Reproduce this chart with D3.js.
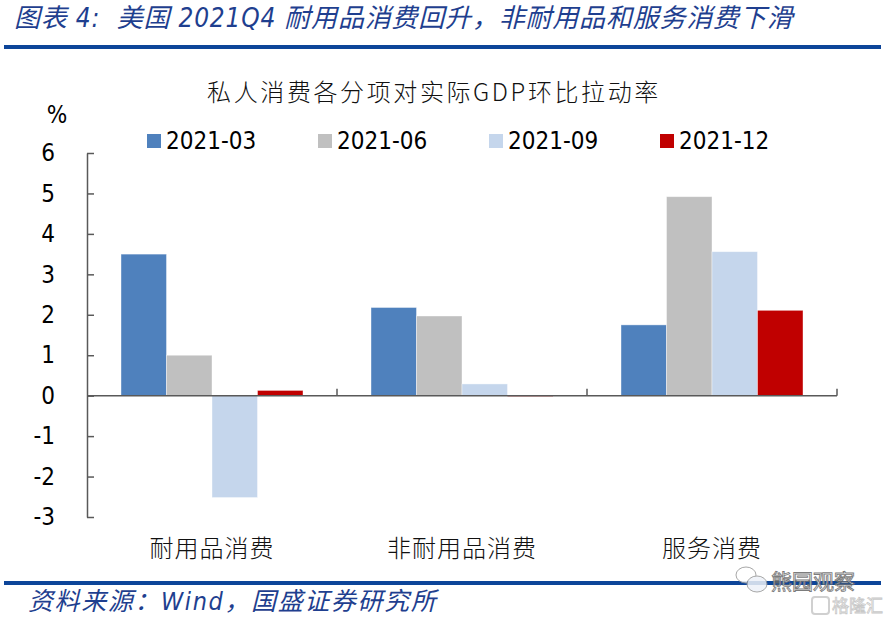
<!DOCTYPE html>
<html>
<head>
<meta charset="utf-8">
<script src="https://cdn.jsdelivr.net/npm/d3@7"></script>
<style>
  html, body { margin: 0; padding: 0; background: #fff; }
  svg { display: block; }
</style>
</head>
<body>
<svg id="chart" width="885" height="620"></svg>
<script>
// ---- data ----
const categories = ["耐用品消费", "非耐用品消费", "服务消费"];
const seriesNames = ["2021-03", "2021-06", "2021-09", "2021-12"];
const s202103 = [3.50, 2.18, 1.75];
const s202106 = [1.00, 1.97, 4.92];
const s202109 = [-2.52, 0.29, 3.56];
const s202112 = [0.13, -0.02, 2.11];
const yTicks = [-3, -2, -1, 0, 1, 2, 3, 4, 5, 6];
const seriesColors = ["#4f81bd", "#c0c0c0", "#c5d6ec", "#c00000"];
const headerText = "图表 4:  美国 2021Q4 耐用品消费回升，非耐用品和服务消费下滑";
const chartTitle = "私人消费各分项对实际GDP环比拉动率";
const sourceText = "资料来源：Wind，国盛证券研究所";

const seriesValues = [s202103, s202106, s202109, s202112];

const svg = d3.select("#chart");
const CJK = "'Noto Sans CJK SC', 'Noto Sans', sans-serif";
const NUM = "'DejaVu Sans Condensed', 'Liberation Sans', sans-serif";
const navy = "#0d4599";

// header
svg.append("text")
  .attr("x", 14).attr("y", 27)
  .attr("font-family", NUM + ", " + CJK)
  .attr("font-style", "italic")
  .attr("font-size", 26)
  .attr("letter-spacing", 0.8)
  .attr("fill", "#1f3f8f")
  .style("white-space", "pre")
  .text(headerText);
svg.append("rect").attr("x", 4).attr("y", 45).attr("width", 877).attr("height", 4).attr("fill", navy);

// footer
svg.append("rect").attr("x", 4).attr("y", 581).attr("width", 877).attr("height", 4).attr("fill", navy);
svg.append("text")
  .attr("x", 28).attr("y", 610)
  .attr("font-family", NUM + ", " + CJK)
  .attr("font-style", "italic")
  .attr("font-size", 25)
  .attr("letter-spacing", 1.6)
  .attr("fill", "#1f3f8f")
  .text(sourceText);

// chart title
svg.append("text")
  .attr("x", 434).attr("y", 101)
  .attr("text-anchor", "middle")
  .attr("font-family", "'Noto Sans CJK SC', sans-serif")
  .attr("font-weight", 300)
  .attr("font-size", 24)
  .attr("letter-spacing", 2.6)
  .attr("fill", "#111")
  .text(chartTitle);

// scales
const x0 = d3.scaleBand().domain(categories).range([87, 837]).padding(0);
const x1 = d3.scaleBand().domain(seriesNames).range([34, x0.bandwidth() - 34]).padding(0);
const y = d3.scaleLinear().domain([-3, 6]).range([517, 153]);
const color = d3.scaleOrdinal().domain(seriesNames).range(seriesColors);

// bars
const g = svg.append("g");
categories.forEach((c, ci) => {
  seriesNames.forEach((s, si) => {
    const v = seriesValues[si][ci];
    g.append("rect")
      .attr("x", x0(c) + x1(s))
      .attr("width", x1.bandwidth())
      .attr("y", y(Math.max(0, v)))
      .attr("height", Math.abs(y(v) - y(0)))
      .attr("fill", color(s))
      .attr("stroke", "#ffffff")
      .attr("stroke-opacity", 0.5)
      .attr("stroke-width", 0.8);
  });
});

// y axis
const yAxis = d3.axisLeft(y).tickValues(yTicks).tickFormat(d3.format("d"))
  .tickSizeInner(-7).tickSizeOuter(0).tickPadding(32);
const ya = svg.append("g").attr("transform", "translate(87,0)").call(yAxis);
ya.select(".domain").attr("stroke", "#595959").attr("stroke-width", 1.5);
ya.selectAll(".tick line").attr("stroke", "#595959").attr("stroke-width", 1.5);
ya.selectAll(".tick text")
  .attr("font-family", NUM).attr("font-size", 24).attr("fill", "#000")
  .text(d => d < 0 ? "-" + Math.abs(d) : d);

// % label
svg.append("text").attr("x", 57).attr("y", 123).attr("text-anchor", "middle")
  .attr("font-family", NUM).attr("font-size", 24).attr("fill", "#000").text("%");

// x axis (zero line) with category separator ticks
const y0 = y(0);
svg.append("line").attr("x1", 87).attr("x2", 837).attr("y1", y0).attr("y2", y0)
  .attr("stroke", "#595959").attr("stroke-width", 1.5);
categories.forEach(c => {
  const xb = x0(c) + x0.bandwidth();
  svg.append("line").attr("x1", xb).attr("x2", xb).attr("y1", y0).attr("y2", y0 - 7)
    .attr("stroke", "#595959").attr("stroke-width", 1.5);
  svg.append("text")
    .attr("x", x0(c) + x0.bandwidth() / 2).attr("y", 557)
    .attr("text-anchor", "middle")
    .attr("font-family", "'Noto Sans CJK SC', sans-serif")
    .attr("font-weight", 300)
    .attr("font-size", 24)
    .attr("letter-spacing", 1)
    .attr("fill", "#111")
    .text(c);
});

// legend
const legendX = d3.scalePoint().domain(seriesNames).range([147, 660]);
seriesNames.forEach(s => {
  svg.append("rect").attr("x", legendX(s)).attr("y", 134).attr("width", 14).attr("height", 14)
    .attr("fill", color(s));
  svg.append("text").attr("x", legendX(s) + 19).attr("y", 149)
    .attr("font-family", NUM).attr("font-size", 24).attr("fill", "#000").text(s);
});

// watermarks
const wm = svg.append("g").attr("opacity", 0.85);
wm.append("ellipse").attr("cx", 746).attr("cy", 575).attr("rx", 10).attr("ry", 8)
  .attr("fill", "#fff").attr("stroke", "#999").attr("stroke-width", 1);
wm.append("ellipse").attr("cx", 757).attr("cy", 584).attr("rx", 10).attr("ry", 8)
  .attr("fill", "#eef2f8").attr("stroke", "#999").attr("stroke-width", 1);
wm.append("text").attr("x", 771).attr("y", 589)
  .attr("font-family", "'Noto Sans CJK SC', sans-serif").attr("font-size", 21)
  .attr("fill", "#fff").attr("stroke", "#666").attr("stroke-width", 0.9)
  .text("熊园观察");
wm.append("rect").attr("x", 812).attr("y", 597).attr("width", 17).attr("height", 17).attr("rx", 3)
  .attr("fill", "none").attr("stroke", "#c8c8c8").attr("stroke-width", 2);
wm.append("text").attr("x", 832).attr("y", 612)
  .attr("font-family", "'Noto Sans CJK SC', sans-serif").attr("font-size", 17)
  .attr("fill", "#fff").attr("stroke", "#c0c0c0").attr("stroke-width", 0.8)
  .text("格隆汇");
</script>
</body>
</html>
